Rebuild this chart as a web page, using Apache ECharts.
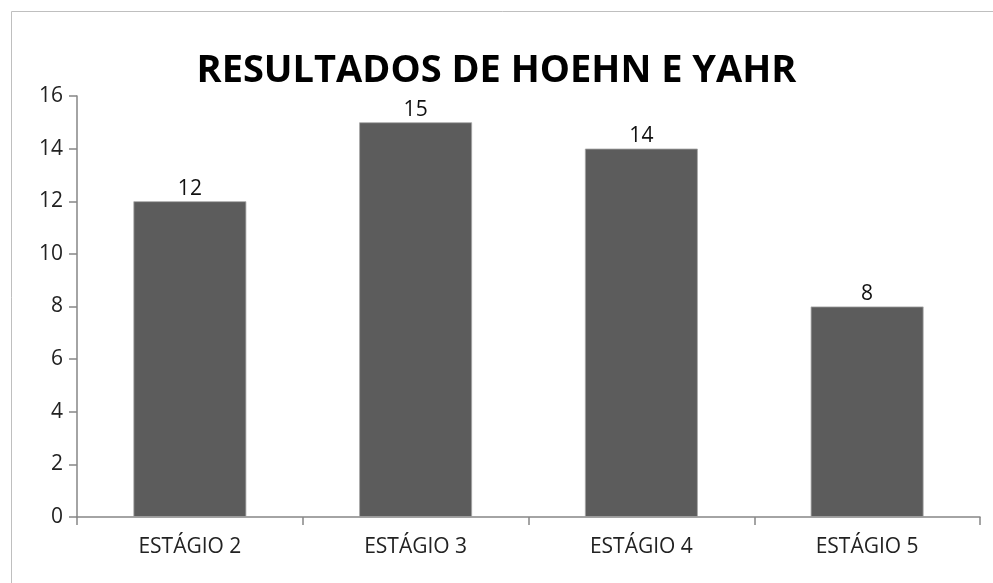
<!DOCTYPE html>
<html>
<head>
<meta charset="utf-8">
<script src="https://cdn.jsdelivr.net/npm/echarts@6/dist/echarts.min.js"></script>
<style>html,body{margin:0;padding:0;background:#fff;}#c{width:993px;height:583px;}</style>
</head>
<body>
<div id="c"></div>
<script>
const titleText = 'RESULTADOS DE HOEHN E YAHR';
const categories = ['ESTÁGIO 2', 'ESTÁGIO 3', 'ESTÁGIO 4', 'ESTÁGIO 5'];
const values = [12, 15, 14, 8];
const yMin = 0, yMax = 16, yStep = 2;

const chart = echarts.init(document.getElementById('c'));
const font = 'Open Sans';
chart.setOption({
  animation: false,
  backgroundColor: '#ffffff',
  graphic: [{
    type: 'rect', shape: {x: 11.5, y: 11.5, width: 1000, height: 1000},
    style: {fill: 'none', stroke: '#bfbfbf', lineWidth: 1}, silent: true
  }],
  title: {
    text: titleText, left: 'center', top: 47,
    textStyle: {fontFamily: font, fontWeight: 'bold', fontSize: 38, color: '#000'}
  },
  grid: {left: 77, right: 13, top: 96, bottom: 66},
  xAxis: {
    type: 'category', data: categories,
    axisLine: {lineStyle: {color: '#868686', width: 1.5}},
    axisTick: {show: true, length: 8, lineStyle: {color: '#868686', width: 1.5}},
    axisLabel: {fontFamily: font, fontSize: 21, color: '#222', margin: 20}
  },
  yAxis: {
    type: 'value', min: yMin, max: yMax, interval: yStep,
    splitLine: {show: false},
    axisLine: {show: true, lineStyle: {color: '#868686', width: 1.5}},
    axisTick: {show: true, length: 8, lineStyle: {color: '#868686', width: 1.5}},
    axisLabel: {fontFamily: font, fontSize: 21, color: '#222', margin: 14}
  },
  series: [{
    type: 'bar', data: values, barWidth: '50%',
    itemStyle: {color: '#5c5c5c', borderColor: '#a6a6a6', borderWidth: 0.8},
    label: {show: true, position: 'top', distance: 2, fontFamily: font, fontSize: 21, color: '#111'}
  }]
});
</script>
</body>
</html>
